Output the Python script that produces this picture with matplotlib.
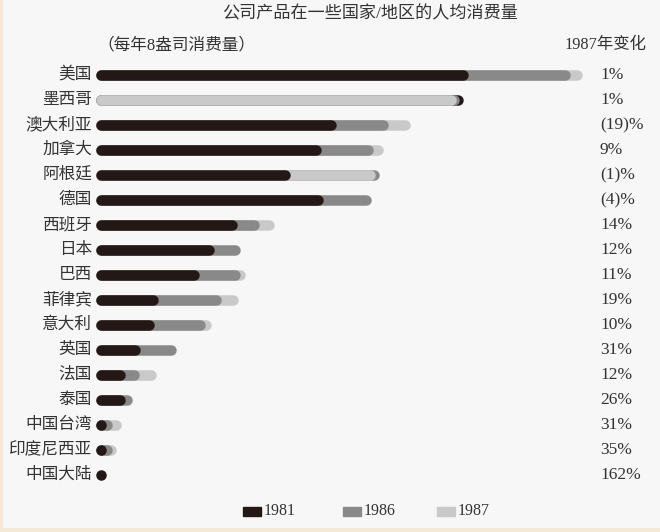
import matplotlib
matplotlib.use("Agg")
import matplotlib.pyplot as plt
import numpy as np

plt.rcParams["font.family"] = ["Liberation Serif", "Noto Sans CJK SC"]

# bar lengths (px-scale units); nan = not visible
countries = ["美国", "墨西哥", "澳大利亚", "加拿大", "阿根廷", "德国", "西班牙", "日本",
             "巴西", "菲律宾", "意大利", "英国", "法国", "泰国", "中国台湾", "印度尼西亚", "中国大陆"]
v1981 = [372, 367, 240, 225, 194, 227, 141, 118, 103, 62, 58, 44, 29, 29, 10, 10, 10]
v1986 = [474, 363, 292, 277, 283, 275, 163, 144, 144, 125, 109, 80, 43, 36, 16, 16, np.nan]
v1987 = [486, 360, 314, 287, 279, np.nan, 178, np.nan, 149, 142, 115, np.nan, 60, np.nan, 25, 20, np.nan]
change_1987 = ["1%", "1%", "(19)%", "9%", "(1)%", "(4)%", "14%", "12%", "11%", "19%",
               "10%", "31%", "12%", "26%", "31%", "35%", "162%"]
years = ["1981", "1986", "1987"]
colors = ["#231815", "#898989", "#c9c9c9"]

W, H = 660, 532
fig = plt.figure(figsize=(W / 100, H / 100), dpi=100)
fig.patch.set_facecolor("#f3e9d6")
bg = fig.add_axes([3 / W, 4 / H, 1 - 3 / W, 1 - 4 / H])
bg.set_facecolor("#f7f7f7")
bg.set_xticks([]); bg.set_yticks([])
for s in bg.spines.values():
    s.set_visible(False)

# axes: 1 data unit = 1 px, left edge at bar start
x0, ytop, ybot = 96, 75, 475
ax = fig.add_axes([x0 / W, 0, (W - x0) / W, 1])
ax.set_xlim(0, W - x0)
ax.set_ylim(H, 0)
ax.axis("off")

cap = 10.5  # bar thickness px
lw = cap * 72 / 100
rows = np.linspace(ytop, ybot, len(countries))
for i, y in enumerate(rows):
    vals = [(v1981[i], 0), (v1986[i], 1), (v1987[i], 2)]
    vals = [(v, k) for v, k in vals if not np.isnan(v)]
    vals.sort(key=lambda t: -t[0])  # longest drawn first
    for v, k in vals:
        start, end = cap / 2, v - cap / 2
        if end - start < 0.5:
            ax.plot([start], [y], "o", ms=lw, color=colors[k], mew=0, zorder=3)
        else:
            ax.plot([start, end], [y, y], color=colors[k], lw=lw,
                    solid_capstyle="round", zorder=3)
    fig.text((x0 - 4) / W, 1 - y / H, countries[i], ha="right", va="center",
             fontsize=12, color="#333333")
    fig.text(600 / W, 1 - y / H, change_1987[i], ha="left", va="center",
             fontsize=12.5, color="#333333")

fig.text(370 / W, 1 - 14 / H, "公司产品在一些国家/地区的人均消费量", ha="center", va="center",
         fontsize=12.3, color="#333333")
fig.text(97 / W, 1 - 45 / H, "（每年8盎司消费量）", ha="left", va="center",
         fontsize=12, color="#333333")
fig.text(647 / W, 1 - 45 / H, "1987年变化", ha="right", va="center",
         fontsize=11.8, color="#333333")

# legend
leg_x = [243, 343, 437]
for lx, lab, c in zip(leg_x, years, colors):
    fig.patches.append(plt.Rectangle((lx / W, 1 - 516 / H), 18 / W, 9 / H,
                                     transform=fig.transFigure, color=c))
    fig.text((lx + 21) / W, 1 - 511 / H, lab, ha="left", va="center",
             fontsize=11.5, color="#333333")

fig.savefig("out.png", dpi=100, facecolor=fig.get_facecolor())
